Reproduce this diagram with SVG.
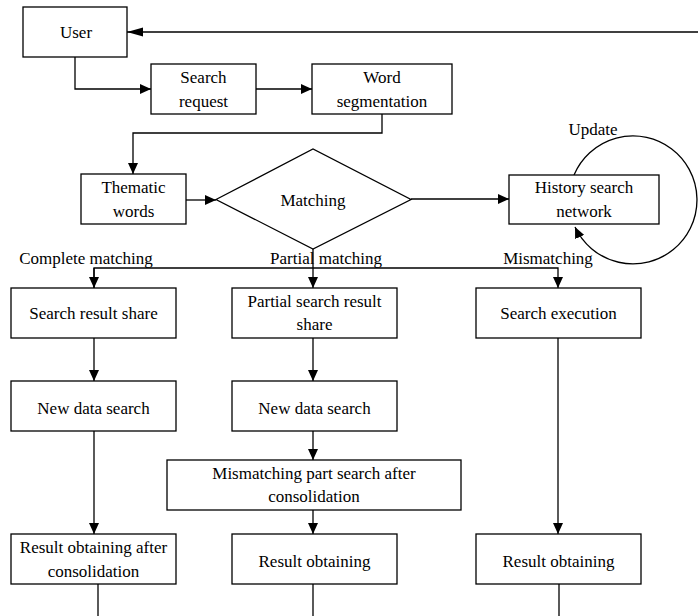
<svg xmlns="http://www.w3.org/2000/svg" width="698" height="616" viewBox="0 0 698 616">
<style>
.n rect,.n polygon{fill:#fff;stroke:#000;stroke-width:1.3}
text{font-family:"Liberation Serif","Times New Roman",serif;font-size:17px;fill:#000;text-anchor:middle}
.c path{fill:none;stroke:#000;stroke-width:1.3}
</style>
<defs>
<marker id="a" markerWidth="11" markerHeight="10" refX="11" refY="5" orient="auto" markerUnits="userSpaceOnUse"><path d="M0,0 L11,5 L0,10 Z" fill="#000"/></marker>
<marker id="b" markerWidth="16" markerHeight="10" refX="16" refY="5" orient="auto" markerUnits="userSpaceOnUse"><path d="M0,0.5 L16,5 L0,9.5 Z" fill="#000"/></marker>
</defs>
<g class="c" id="connectors">
<path d="M698,32 H127" marker-end="url(#b)"/>
<path d="M75,57 V89 H151" marker-end="url(#a)"/>
<path d="M256,89 H312" marker-end="url(#a)"/>
<path d="M382,114 V133 H133 V174" marker-end="url(#a)"/>
<path d="M186,200 H216" marker-end="url(#a)"/>
<path d="M411,199 H509" marker-end="url(#a)"/>
<path d="M574,175 A64,64 0 1 1 575,227" marker-end="url(#a)"/>
<path d="M313,249 V288" marker-end="url(#a)"/>
<path d="M94,288 V268 H558 V288" marker-end="url(#a)"/>
<path d="M94,268 V288" marker-end="url(#a)"/>
<path d="M94,338 V381" marker-end="url(#a)"/>
<path d="M313,338 V381" marker-end="url(#a)"/>
<path d="M313,431 V460" marker-end="url(#a)"/>
<path d="M313,510 V534" marker-end="url(#a)"/>
<path d="M94,431 V534" marker-end="url(#a)"/>
<path d="M558,338 V534" marker-end="url(#a)"/>
<path d="M98,584 V616"/>
<path d="M313,584 V616"/>
<path d="M559,584 V616"/>
</g>
<text x="593" y="135">Update</text>
<text x="86" y="264">Complete matching</text>
<text x="326" y="264">Partial matching</text>
<text x="548" y="264">Mismatching</text>
<g class="n" id="user"><rect x="23" y="7" width="104" height="50"/><text x="76" y="38">User</text></g>
<g class="n" id="search-request"><rect x="151" y="64" width="105" height="50"/><text x="203.5" y="83">Search</text><text x="203.5" y="107">request</text></g>
<g class="n" id="word-segmentation"><rect x="312" y="64" width="140" height="50"/><text x="382" y="83">Word</text><text x="382" y="107">segmentation</text></g>
<g class="n" id="thematic-words"><rect x="81" y="174" width="105" height="50"/><text x="133.5" y="193">Thematic</text><text x="133.5" y="217">words</text></g>
<g class="n" id="matching"><polygon points="216,199.5 313,149 411,199.5 313,249"/><text x="313" y="206">Matching</text></g>
<g class="n" id="history"><rect x="509" y="175" width="150" height="49"/><text x="584" y="193">History search</text><text x="584" y="217">network</text></g>
<g class="n" id="search-result-share"><rect x="11" y="288" width="165" height="50"/><text x="93.5" y="319">Search result share</text></g>
<g class="n" id="partial-share"><rect x="232" y="288" width="165" height="50"/><text x="314.5" y="307">Partial search result</text><text x="314.5" y="330">share</text></g>
<g class="n" id="search-execution"><rect x="476" y="288" width="165" height="50"/><text x="558.5" y="319">Search execution</text></g>
<g class="n" id="new-data-1"><rect x="11" y="381" width="165" height="50"/><text x="93.5" y="414">New data search</text></g>
<g class="n" id="new-data-2"><rect x="232" y="381" width="165" height="50"/><text x="314.5" y="414">New data search</text></g>
<g class="n" id="mismatch-part"><rect x="167" y="460" width="294" height="50"/><text x="314" y="479">Mismatching part search after</text><text x="314" y="502">consolidation</text></g>
<g class="n" id="result-after"><rect x="11" y="534" width="165" height="50"/><text x="93.5" y="553">Result obtaining after</text><text x="93.5" y="577">consolidation</text></g>
<g class="n" id="result-2"><rect x="232" y="534" width="165" height="50"/><text x="314.5" y="567">Result obtaining</text></g>
<g class="n" id="result-3"><rect x="476" y="534" width="165" height="50"/><text x="558.5" y="567">Result obtaining</text></g>
</svg>
